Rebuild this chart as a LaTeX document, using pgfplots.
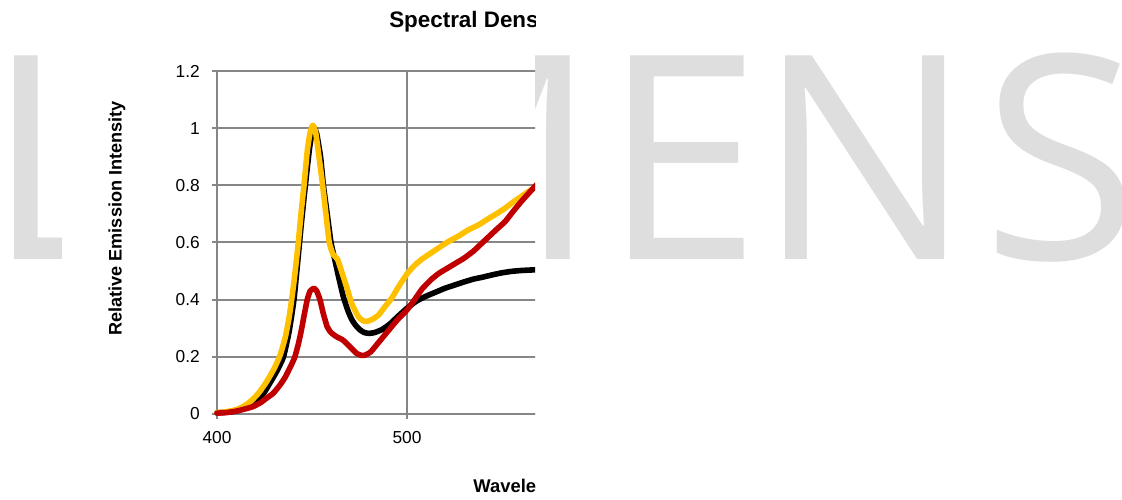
\documentclass[border=0pt]{standalone}
\usepackage{fontspec}
\setmainfont{Liberation Sans}
\newfontfamily\wmfont{Open Sans}
\usepackage{pgfplots}
\pgfplotsset{compat=1.18}
\definecolor{wm}{RGB}{222,222,222}
\definecolor{gridgray}{RGB}{134,134,134}
\definecolor{sgold}{RGB}{255,192,0}
\definecolor{sred}{RGB}{192,0,0}

\begin{document}
\begin{tikzpicture}
\useasboundingbox (0,0) rectangle (841.5pt,375pt);
% big watermark letters behind the chart
\begin{scope}[every node/.style={inner sep=0pt, text=wm, font=\wmfont\fontsize{214pt}{214pt}\selectfont}]
\node[anchor=base west] at (-10.2pt,180pt) {L};
\node[anchor=base east] at (448.9pt,180pt) {M};
\node[anchor=base west] at (451.8pt,180pt) {E};
\node[anchor=base west] at (568.1pt,180pt) {N};
\node[anchor=base west] at (737pt,180pt) {S};
\end{scope}
\begin{scope}
\clip (46.5pt,0pt) rectangle (401.25pt,375pt);
\fill[white] (46.5pt,0pt) rectangle (401.25pt,375pt);
\begin{axis}[
    at={(162.75pt,64.5pt)}, anchor=south west,
    scale only axis, width=285pt, height=257.25pt,
    xmin=400, xmax=600, ymin=0, ymax=1.2,
    xtick={400,500,600}, ytick={0,0.2,0.4,0.6,0.8,1,1.2},
    clip=false,
    axis x line*=bottom, axis y line*=left,
    axis line style={gridgray, line width=1.5pt, -},
    grid=major, major grid style={gridgray, line width=1.5pt},
    tick style={gridgray, line width=1.5pt},
    tick align=outside, major tick length=3.75pt,
    tick label style={font=\fontsize{13pt}{15pt}\selectfont, text=black},
    yticklabel style={anchor=east, inner sep=0pt, xshift=-9pt},
    xticklabel style={anchor=north, inner sep=0pt, yshift=-9pt},
    /pgf/number format/fixed, /pgf/number format/precision=1,
    /pgf/number format/assume math mode=true,
    every axis title shift=0pt,
    title={Spectral Density},
    title style={font=\bfseries\fontsize{16.8pt}{20pt}\selectfont, inner sep=0pt,
        at={(axis description cs:0.4526,1.128)}, anchor=base west, yshift=0pt},
    xlabel={Wavelength (nm)},
    xlabel style={font=\bfseries\fontsize{13.8pt}{16pt}\selectfont, inner sep=0pt,
        at={(axis description cs:0.674,-0.230)}, anchor=base west},
    ylabel={Relative Emission Intensity},
    ylabel style={font=\bfseries\fontsize{13.6pt}{16pt}\selectfont, inner sep=0pt,
        at={(axis description cs:-0.263,0.57)}, anchor=center},
    every axis plot/.append style={line width=4.2pt, line join=round, line cap=round,
        smooth, tension=0.3},
]
% black
\addplot[black] coordinates {
(400,0.004) (408,0.008) (412,0.014) (416,0.026) (420,0.045) (424.5,0.072)
(428,0.11) (431.5,0.15) (435,0.2) (438,0.29) (440.5,0.4) (442.3,0.52)
(444.3,0.66) (446.5,0.8) (448.7,0.93) (450.3,0.995) (451.3,1.0) (452.5,0.98) (454.5,0.9)
(456,0.8) (458,0.7) (460,0.6) (462,0.54) (464,0.48) (466.5,0.41)
(469,0.36) (471,0.33) (473,0.31) (475.3,0.294) (477.5,0.285) (480,0.282)
(483,0.285) (487,0.296) (491,0.315) (495,0.34) (500,0.37) (505,0.395)
(510,0.412) (515,0.426) (520,0.44) (525,0.451) (530,0.462) (535,0.472)
(540,0.479) (545,0.487) (550,0.494) (555,0.499) (560,0.502) (566,0.504)
(570,0.505)
};
% gold
\addplot[sgold] coordinates {
(400,0.005) (405,0.008) (410,0.015) (414,0.027) (418,0.046) (422,0.074)
(426,0.112) (430,0.158) (433.2,0.205) (436,0.27) (438,0.34) (439.5,0.41)
(441,0.49) (442.8,0.6) (444.5,0.72) (445.8,0.8) (447.5,0.92) (449,0.985) (450.4,1.01)
(451.8,0.99) (453.5,0.91) (455.6,0.8) (457.5,0.69) (459.1,0.6) (461,0.56)
(463.5,0.54) (466,0.49) (468.2,0.445) (470.9,0.387) (474.4,0.34) (477,0.326)
(479,0.324) (482,0.332) (485,0.346) (488,0.372) (491.9,0.405) (496,0.45)
(500.2,0.492) (504,0.52) (507.7,0.541) (513,0.565) (518,0.587) (521.7,0.603)
(527,0.622) (532,0.643) (537.5,0.661) (542,0.68) (547,0.70) (551.6,0.72)
(556,0.742) (561,0.765) (565.6,0.786) (570,0.80)
};
% red
\addplot[sred] coordinates {
(400,0.003) (405,0.005) (410,0.01) (415,0.018) (419,0.026) (423,0.04)
(426,0.055) (429.5,0.072) (433,0.1) (436,0.13) (439,0.17) (441,0.2)
(443,0.25) (444.6,0.3) (446,0.35) (447.5,0.4) (449,0.43) (451,0.44)
(452.5,0.43) (454.2,0.4) (456,0.35) (458,0.305) (460,0.285) (463,0.27)
(466,0.26) (468.2,0.247) (471,0.228) (473.5,0.212) (476,0.205) (478,0.206)
(481,0.218) (485,0.25) (490,0.29) (495,0.33) (500,0.364) (504,0.4)
(508,0.438) (513,0.472) (517,0.493) (521,0.509) (525,0.525) (530,0.545)
(535,0.57) (539,0.595) (543,0.62) (547,0.645) (551.6,0.673) (556,0.71)
(561,0.75) (566.5,0.79) (570,0.815)
};
\end{axis}
\end{scope}
\end{tikzpicture}
\end{document}
